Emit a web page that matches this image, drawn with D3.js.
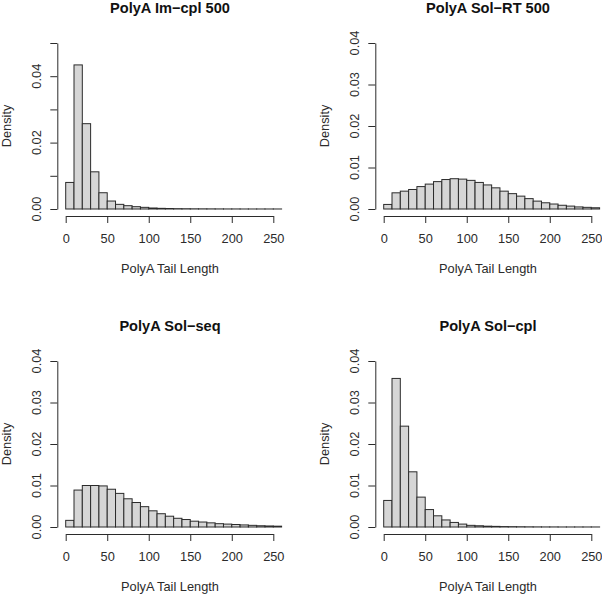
<!DOCTYPE html>
<html>
<head>
<meta charset="utf-8">
<script src="https://cdn.jsdelivr.net/npm/d3@7"></script>
<style>
  html, body { margin: 0; padding: 0; background: #fff; }
  svg { display: block; font-family: "Liberation Sans", Arial, Helvetica, sans-serif; }
</style>
</head>
<body>
<svg id="chart" width="602" height="594"></svg>
<script>
// ---- data (density per 10-unit bin, bins 0-10 ... 250-260) ----
const binWidth = 10;
const xTicks = [0, 50, 100, 150, 200, 250];
const xLabel = "PolyA Tail Length";
const yLabel = "Density";

const titles = ["PolyA Im\u2212cpl 500", "PolyA Sol\u2212RT 500", "PolyA Sol\u2212seq", "PolyA Sol\u2212cpl"];

const imCpl500 = [0.0080, 0.0434, 0.0257, 0.0112, 0.0049, 0.0024, 0.0014, 0.0010, 0.0007, 0.0005,
  0.0003, 0.0002, 0.00015, 0.0001, 0.00008, 0.00006, 0.00005, 0.00004, 0.00003, 0.00002,
  0.00002, 0.00001, 0.00001, 0.00001, 0.00001, 0.00001];
const solRT500 = [0.0011, 0.0039, 0.0043, 0.0047, 0.0054, 0.0060, 0.0066, 0.0071, 0.0073, 0.0072,
  0.0069, 0.0064, 0.0058, 0.0051, 0.0043, 0.0037, 0.0031, 0.0025, 0.0019, 0.0015,
  0.0012, 0.0009, 0.0007, 0.0005, 0.0004, 0.0003];
const solSeq = [0.0016, 0.0089, 0.0100, 0.0100, 0.0099, 0.0091, 0.0081, 0.0068, 0.0059, 0.0049,
  0.0039, 0.0032, 0.0026, 0.0021, 0.0018, 0.0014, 0.0012, 0.0010, 0.0008, 0.0007,
  0.0006, 0.0005, 0.0004, 0.0003, 0.00025, 0.0002];
const solCpl = [0.0064, 0.0358, 0.0243, 0.0133, 0.0072, 0.0042, 0.0027, 0.0017, 0.0011, 0.0007,
  0.0004, 0.0003, 0.0002, 0.00015, 0.0001, 0.00008, 0.00006, 0.00004, 0.00003, 0.00002,
  0.00002, 0.00001, 0.00001, 0.00001, 0.00001, 0.00001];

const yTicksA = [0, 0.01, 0.02, 0.03, 0.04, 0.05];
const yLabelsA = ["0.00", "", "0.02", "", "0.04", ""];
const yTicksB = [0, 0.01, 0.02, 0.03, 0.04];
const yLabelsB = ["0.00", "0.01", "0.02", "0.03", "0.04"];

const panels = [
  { title: titles[0], values: imCpl500, yTicks: yTicksA, yLabels: yLabelsA, col: 0, row: 0 },
  { title: titles[1], values: solRT500, yTicks: yTicksB, yLabels: yLabelsB, col: 1, row: 0 },
  { title: titles[2], values: solSeq,   yTicks: yTicksB, yLabels: yLabelsB, col: 0, row: 1 },
  { title: titles[3], values: solCpl,   yTicks: yTicksB, yLabels: yLabelsB, col: 1, row: 1 }
];

// ---- layout ----
const ink = "#2b2b2b";
const fillCol = "#d6d6d6";
const fs = "12.8px";
const svg = d3.select("#chart");
const colOff = 318, rowOff = 318;

panels.forEach(p => {
  const ox = p.col * colOff, oy = p.row * rowOff;
  const g = svg.append("g").attr("transform", `translate(${ox},${oy})`);

  const x = d3.scaleLinear().domain([0, 250]).range([65.7, 273.3]);
  const yMax = p.yTicks[p.yTicks.length - 1];
  const y = d3.scaleLinear().domain([0, yMax]).range([209, 43]);
  const axisY = 216;   // x-axis line
  const axisX = 57.3;  // y-axis line

  // bars
  g.selectAll("rect.bar").data(p.values).enter().append("rect")
    .attr("class", "bar")
    .attr("x", (d, i) => x(i * binWidth))
    .attr("width", (d, i) => x((i + 1) * binWidth) - x(i * binWidth))
    .attr("y", d => y(d))
    .attr("height", d => y(0) - y(d))
    .attr("fill", fillCol)
    .attr("stroke", ink)
    .attr("stroke-width", 1);

  // x axis
  const xa = g.append("g").attr("transform", `translate(0,${axisY})`)
    .call(d3.axisBottom(x).tickValues(xTicks).tickSize(7).tickSizeOuter(0).tickPadding(10.5).tickFormat(d3.format("d")));
  xa.selectAll("path, line").attr("stroke", ink).attr("stroke-width", 1);
  xa.selectAll("text").attr("fill", ink).style("font-size", fs).attr("font-family", null);

  // y axis
  const ya = g.append("g").attr("transform", `translate(${axisX},0)`)
    .call(d3.axisLeft(y).tickValues(p.yTicks).tickSize(7).tickSizeOuter(0).tickFormat(""));
  ya.selectAll("path, line").attr("stroke", ink).attr("stroke-width", 1);

  g.selectAll("text.ylab").data(p.yTicks).enter().append("text")
    .attr("class", "ylab")
    .attr("transform", d => `translate(40.5,${y(d)}) rotate(-90)`)
    .attr("text-anchor", "middle")
    .attr("fill", ink)
    .style("font-size", fs)
    .text((d, i) => p.yLabels[i]);

  // title
  g.append("text")
    .attr("x", 170).attr("y", 13)
    .attr("text-anchor", "middle")
    .attr("fill", "#111")
    .style("font-size", "14.6px").style("font-weight", "bold")
    .text(p.title);

  // x label
  g.append("text")
    .attr("x", 170).attr("y", 273)
    .attr("text-anchor", "middle")
    .attr("fill", ink)
    .style("font-size", fs)
    .text(xLabel);

  // y label
  g.append("text")
    .attr("transform", `translate(10.5,126) rotate(-90)`)
    .attr("text-anchor", "middle")
    .attr("fill", ink)
    .style("font-size", fs)
    .text(yLabel);
});
</script>
</body>
</html>
